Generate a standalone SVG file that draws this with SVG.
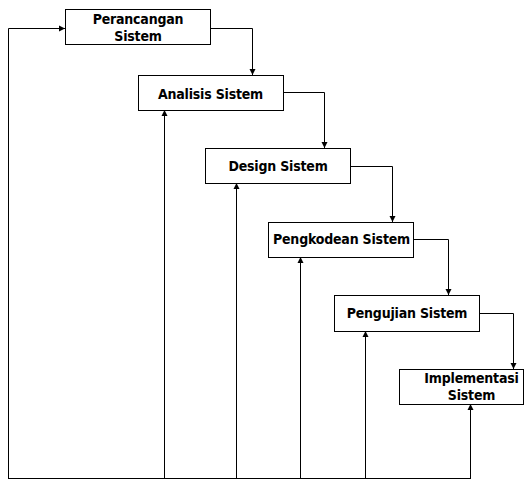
<svg xmlns="http://www.w3.org/2000/svg" width="524" height="480" viewBox="0 0 524 480">
<defs>
<marker id="ah" viewBox="0 0 10 10" refX="10" refY="5" markerWidth="6" markerHeight="7" markerUnits="userSpaceOnUse" orient="auto">
<path d="M0,0 L10,5 L0,10 Z" fill="#000"/>
</marker>
</defs>
<style>
.box{fill:#fff;stroke:#000;stroke-width:1}
.lbl{font-family:"DejaVu Sans Condensed","DejaVu Sans",sans-serif;font-weight:bold;font-size:14px;letter-spacing:-0.2px;fill:#000;text-anchor:middle}
.c{fill:none;stroke:#000;stroke-width:1}
</style>
<rect width="524" height="480" fill="#fff"/>
<g id="connectors">
<path class="c" d="M8.5,478.5 V28.5 H65" marker-end="url(#ah)"/>
<path class="c" d="M8,478.5 H471"/>
<path class="c" d="M164.5,478.5 V110" marker-end="url(#ah)"/>
<path class="c" d="M236.5,478.5 V183" marker-end="url(#ah)"/>
<path class="c" d="M300.5,478.5 V257" marker-end="url(#ah)"/>
<path class="c" d="M365.5,478.5 V331" marker-end="url(#ah)"/>
<path class="c" d="M470.5,478.5 V404" marker-end="url(#ah)"/>
<path class="c" d="M210,28.5 H252.5 V75" marker-end="url(#ah)"/>
<path class="c" d="M283,92.5 H324.5 V148" marker-end="url(#ah)"/>
<path class="c" d="M350,166.5 H392.5 V222" marker-end="url(#ah)"/>
<path class="c" d="M413,239.5 H448.5 V295" marker-end="url(#ah)"/>
<path class="c" d="M479,313.5 H513.5 V369" marker-end="url(#ah)"/>
</g>
<g id="perancangan">
<rect class="box" x="65.5" y="9.5" width="145" height="35"/>
<text class="lbl" x="138" y="24">Perancangan</text>
<text class="lbl" x="138" y="40.5">Sistem</text>
</g>
<g id="analisis">
<rect class="box" x="138.5" y="75.5" width="145" height="35"/>
<text class="lbl" x="210.5" y="98.5">Analisis Sistem</text>
</g>
<g id="design">
<rect class="box" x="205.5" y="148.5" width="145" height="35"/>
<text class="lbl" x="278" y="171">Design Sistem</text>
</g>
<g id="pengkodean">
<rect class="box" x="268.5" y="222.5" width="145" height="35"/>
<text class="lbl" x="341.5" y="244">Pengkodean Sistem</text>
</g>
<g id="pengujian">
<rect class="box" x="334.5" y="295.5" width="145" height="36"/>
<text class="lbl" x="407" y="318">Pengujian Sistem</text>
</g>
<g id="implementasi">
<rect class="box" x="399.5" y="369.5" width="124" height="35"/>
<text class="lbl" x="471.5" y="383">Implementasi</text>
<text class="lbl" x="471.5" y="400">Sistem</text>
</g>
</svg>
